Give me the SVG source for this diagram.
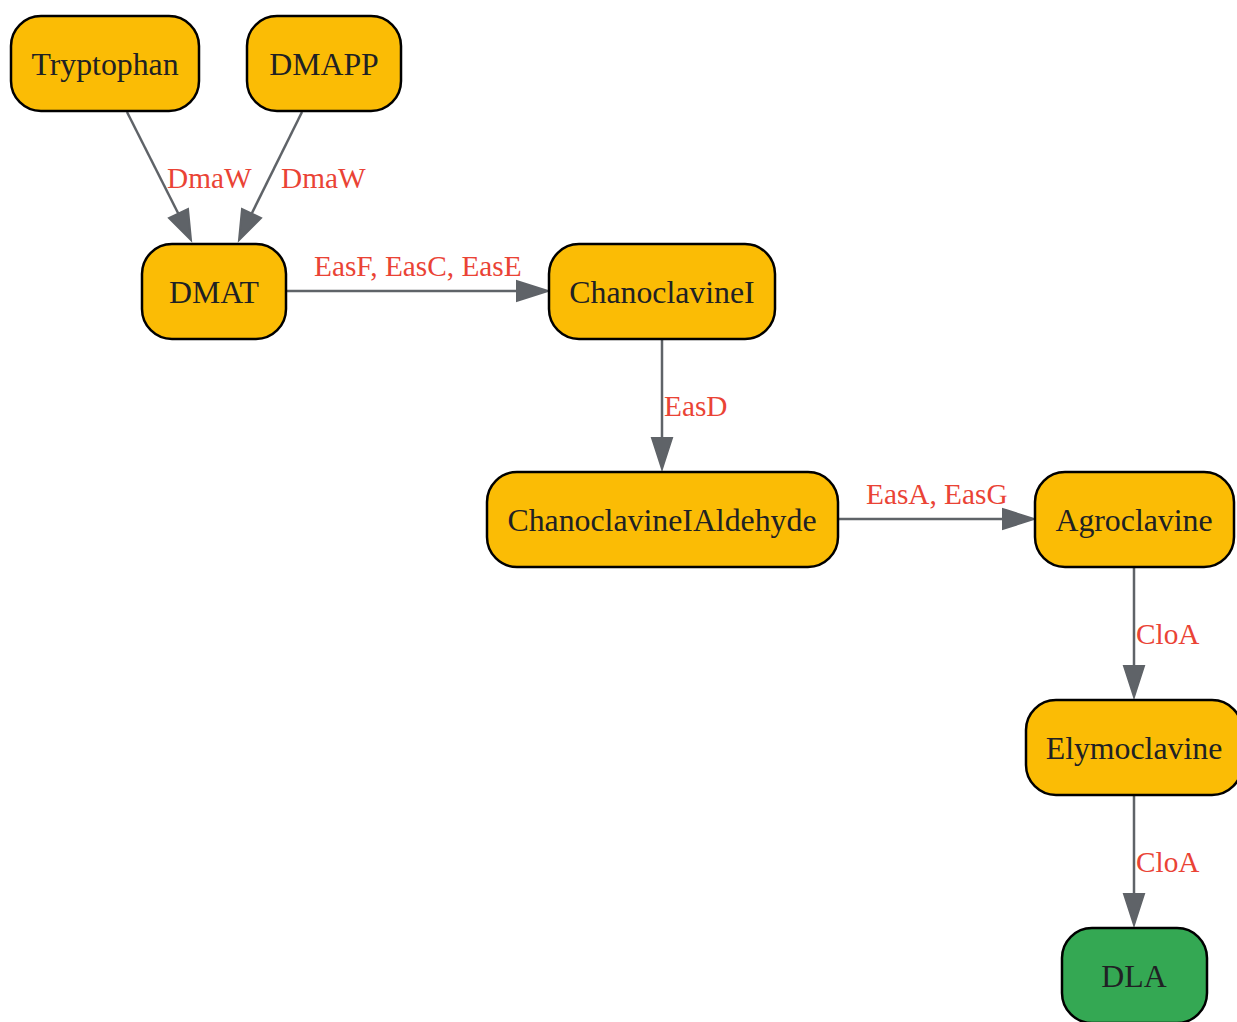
<svg xmlns="http://www.w3.org/2000/svg" width="1237" height="1022" viewBox="0 0 1237 1022">
<style>
.n rect{fill:#FBBC05;stroke:#000;stroke-width:2.5}
.n.g rect{fill:#34A853}
.n text{font-family:"Liberation Serif","Times New Roman",serif;font-size:31.8px;fill:#202124;text-anchor:middle}
.e line{stroke:#5f6368;stroke-width:2.5;fill:none}
.e path{fill:#5f6368;stroke:#5f6368;stroke-width:2}
.l{font-family:"Liberation Serif","Times New Roman",serif;font-size:29.3px;fill:#EA4335}
</style>
<rect width="1237" height="1022" fill="#fff"/>
<g id="connectors" class="e">
<line x1="127" y1="112" x2="179" y2="215"/>
<path d="M191,240 L169,218 L188,209 Z"/>
<line x1="302" y1="112" x2="251" y2="215"/>
<path d="M239,240 L242,209 L261,218 Z"/>
<line x1="287" y1="291" x2="520" y2="291"/>
<path d="M548,291 L517,281 L517,301 Z"/>
<line x1="662" y1="340" x2="662" y2="441"/>
<path d="M662,469 L652,438 L672,438 Z"/>
<line x1="839" y1="519" x2="1005" y2="519"/>
<path d="M1034,519 L1003,509 L1003,529 Z"/>
<line x1="1134" y1="568" x2="1134" y2="669"/>
<path d="M1134,697 L1124,666 L1144,666 Z"/>
<line x1="1134" y1="796" x2="1134" y2="897"/>
<path d="M1134,925 L1124,894 L1144,894 Z"/>
<text class="l" x="167" y="188">DmaW</text>
<text class="l" x="281" y="188">DmaW</text>
<text class="l" x="314" y="276">EasF, EasC, EasE</text>
<text class="l" x="664" y="416">EasD</text>
<text class="l" x="866" y="504">EasA, EasG</text>
<text class="l" x="1136" y="644">CloA</text>
<text class="l" x="1136" y="872">CloA</text>
</g>
<g id="Tryptophan" class="n"><rect x="11" y="16" width="188" height="95" rx="30"/><text x="105" y="75">Tryptophan</text></g>
<g id="DMAPP" class="n"><rect x="247" y="16" width="154" height="95" rx="30"/><text x="324" y="75">DMAPP</text></g>
<g id="DMAT" class="n"><rect x="142" y="244" width="144" height="95" rx="30"/><text x="214" y="303">DMAT</text></g>
<g id="ChanoclavineI" class="n"><rect x="549" y="244" width="226" height="95" rx="30"/><text x="662" y="303">ChanoclavineI</text></g>
<g id="ChanoclavineIAldehyde" class="n"><rect x="487" y="472" width="351" height="95" rx="30"/><text x="662" y="531">ChanoclavineIAldehyde</text></g>
<g id="Agroclavine" class="n"><rect x="1035" y="472" width="199" height="95" rx="30"/><text x="1134" y="531">Agroclavine</text></g>
<g id="Elymoclavine" class="n"><rect x="1026" y="700" width="216" height="95" rx="30"/><text x="1134" y="759">Elymoclavine</text></g>
<g id="DLA" class="n g"><rect x="1062" y="928" width="145" height="95" rx="30"/><text x="1134" y="987">DLA</text></g>
</svg>
